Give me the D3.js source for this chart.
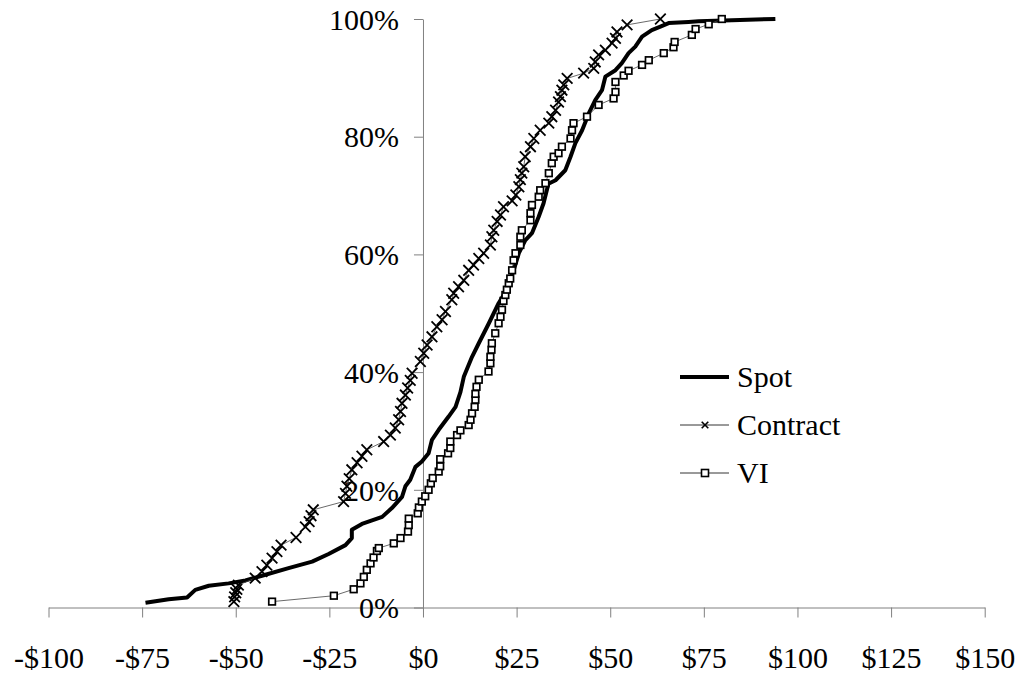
<!DOCTYPE html>
<html>
<head>
  <meta charset="UTF-8">
  <title>Spot / Contract / VI distribution</title>
  <style>
    body { margin: 0; background: #fff; }
    svg { display: block; }
    .axis path, .axis line { stroke: #808080; stroke-width: 1; }
  </style>
</head>
<body>
  <svg width="1029" height="679" style="font-family:'Liberation Serif'"></svg>
  <script src="https://d3js.org/d3.v7.min.js"></script>
  <script>
    // cumulative share (%) against dollar value
    const spotX = [-74.1, -67.9, -63.0, -60.8, -57.2, -51.9, -47.4, -43.0, -35.9, -29.6,
      -25.2, -20.7, -19.0, -19.0, -16.3, -10.9, -8.3, -5.6, -4.7, -3.4,
      -2.0, -0.3, 1.5, 2.4, 4.2, 6.8, 8.7, 10.0, 10.9, 13.1,
      14.9, 17.6, 20.2, 22.4, 24.2, 25.6, 27.3, 29.1, 30.9, 32.2,
      33.5, 35.4, 38.0, 39.4, 40.7, 42.5, 44.3, 46.0, 47.8, 48.7,
      51.4, 53.1, 54.9, 56.7, 58.5, 61.1, 63.4, 65.6, 70.9, 73.6, 82.5, 94.1];
    const spotY = [0.8, 1.4, 1.7, 3.0, 3.7, 4.1, 4.6, 5.4, 6.7, 7.8,
      9.1, 10.6, 11.8, 13.2, 14.2, 15.4, 16.9, 18.8, 20.6, 21.7,
      23.9, 24.8, 26.2, 28.5, 30.2, 32.4, 34.1, 36.6, 39.2, 42.6,
      44.9, 48.3, 51.7, 54.0, 57.3, 60.2, 62.4, 63.6, 66.4, 68.7,
      72.0, 72.6, 74.3, 76.6, 78.9, 81.1, 84.0, 86.2, 87.9, 90.2,
      91.3, 92.5, 94.2, 95.3, 97.0, 98.1, 98.7, 99.3, 99.5, 99.6, 99.8, 100];

    const contractX = [-50.5, -50.3, -50.0, -49.7, -49.3, -44.8, -43.0, -41.7, -40.3, -39.0,
      -37.9, -33.9, -31.4, -30.4, -29.9, -29.3, -21.2, -20.7, -20.3, -19.7,
      -19.0, -17.6, -16.3, -15.0, -10.5, -8.7, -7.4, -6.5, -6.0, -5.6,
      -4.7, -4.1, -3.4, -2.9, -0.7, 0.2, 1.1, 2.4, 3.7, 5.1,
      6.0, 7.7, 8.2, 9.5, 10.9, 12.2, 13.5, 14.9, 16.2, 18.0,
      18.4, 18.9, 19.8, 20.7, 21.5, 23.8, 24.8, 25.6, 26.0, 26.4,
      26.9, 27.3, 28.7, 29.6, 31.3, 33.6, 34.4, 35.4, 36.2, 36.7,
      37.1, 37.6, 38.5, 42.9, 45.6, 46.0, 46.9, 48.7, 50.5, 51.4,
      51.8, 54.5, 63.4];
    const contractY = [1.0, 1.8, 2.5, 3.1, 3.8, 5.0, 6.1, 7.2, 8.4, 9.5,
      10.6, 11.9, 13.7, 14.6, 15.6, 16.6, 18.0, 19.4, 20.6, 21.9,
      23.4, 24.6, 25.7, 26.8, 28.2, 29.3, 30.5, 31.9, 33.3, 34.7,
      36.1, 37.3, 38.6, 39.8, 41.8, 43.2, 44.6, 46.0, 47.7, 48.9,
      50.3, 52.3, 53.4, 54.5, 55.6, 57.3, 58.2, 59.3, 60.2, 61.6,
      63.0, 64.1, 65.6, 66.7, 68.1, 69.1, 70.1, 71.5, 72.7, 73.8,
      74.9, 76.6, 78.3, 79.7, 81.1, 82.3, 83.4, 84.5, 85.9, 86.8,
      87.9, 88.8, 89.9, 90.8, 91.6, 92.7, 93.9, 94.7, 95.9, 96.7,
      97.8, 99.0, 100];

    const viX = [-40.3, -23.8, -18.5, -16.7, -15.8, -15.0, -14.0, -13.2, -12.3, -11.8,
      -7.8, -6.0, -4.0, -3.8, -3.8, -1.4, -1.1, -0.3, 0.6, 1.5,
      2.1, 2.6, 4.2, 4.6, 4.6, 6.7, 7.3, 7.3, 9.1, 10.0,
      12.2, 12.7, 13.1, 13.8, 14.0, 14.0, 14.3, 14.9, 17.5, 18.0,
      18.0, 18.3, 18.4, 19.3, 20.2, 20.7, 21.1, 21.5, 22.0, 22.4,
      22.9, 23.3, 23.8, 24.2, 24.7, 26.0, 26.0, 26.4, 28.7, 28.7,
      29.1, 30.9, 31.3, 32.7, 33.6, 34.4, 34.9, 36.2, 37.1, 39.4,
      39.8, 40.2, 43.8, 46.9, 50.9, 51.4, 51.4, 53.6, 54.9, 58.5,
      60.3, 64.3, 66.9, 67.2, 71.8, 72.8, 76.3, 79.8];
    const viY = [1.0, 2.0, 3.1, 4.1, 5.2, 6.4, 7.5, 8.5, 9.6, 10.1,
      10.9, 11.8, 12.9, 14.0, 15.1, 16.0, 17.0, 18.0, 18.9, 20.0,
      21.1, 22.0, 23.1, 24.0, 25.2, 26.2, 27.1, 28.2, 29.3, 30.1,
      31.0, 31.9, 33.0, 34.1, 35.3, 36.3, 37.5, 38.7, 40.1, 41.5,
      42.6, 43.8, 44.9, 46.6, 48.3, 49.4, 50.6, 52.1, 53.1, 54.0,
      55.1, 55.9, 57.3, 59.0, 60.2, 61.6, 63.0, 64.1, 65.8, 67.0,
      68.4, 69.8, 70.9, 72.1, 73.8, 75.5, 76.6, 77.2, 78.3, 79.7,
      81.1, 82.3, 83.4, 85.4, 86.5, 87.6, 89.3, 90.4, 91.2, 92.2,
      93.0, 94.2, 95.2, 96.1, 97.3, 98.3, 99.1, 100];

    const xTicks = [-100, -75, -50, -25, 0, 25, 50, 75, 100, 125, 150];
    const yTicks = [0, 20, 40, 60, 80, 100];
    const seriesNames = ["Spot", "Contract", "VI"];

    const svg = d3.select("svg");
    const x = d3.scaleLinear().domain([-100, 150]).range([48.5, 984.7]);
    const y = d3.scaleLinear().domain([0, 100]).range([607.5, 19]);

    const fmtDollar = d => (d < 0 ? "-$" + Math.abs(d) : "$" + d);

    const xAxis = svg.append("g")
      .attr("class", "axis")
      .attr("transform", `translate(0,${y(0)})`)
      .call(d3.axisBottom(x).tickValues(xTicks).tickFormat(fmtDollar).tickSize(10).tickSizeOuter(0));
    xAxis.selectAll("text").attr("y", 60.5).attr("dy", 0);

    const yAxis = svg.append("g")
      .attr("class", "axis")
      .attr("transform", `translate(${x(0)},0)`)
      .call(d3.axisLeft(y).tickValues(yTicks).tickFormat(d => d + "%").tickSize(9).tickSizeOuter(0).tickPadding(15));
    yAxis.selectAll("text").attr("dy", "0.34em");
    // drop the sans-serif default that d3.axis puts on its group
    svg.selectAll(".axis").attr("font-family", "Liberation Serif").attr("font-size", 30);

    const zip = (xs, ys) => xs.map((v, i) => [v, ys[i]]);
    const line = d3.line().x(d => x(d[0])).y(d => y(d[1]));

    const spot = zip(spotX, spotY);
    const contract = zip(contractX, contractY);
    const vi = zip(viX, viY);

    // Spot: heavy line, no markers
    svg.append("path").datum(spot)
      .attr("d", line)
      .attr("fill", "none").attr("stroke", "#000").attr("stroke-width", 4)
      .attr("stroke-linejoin", "round");

    // Contract: thin line with x markers
    svg.append("path").datum(contract)
      .attr("d", line)
      .attr("fill", "none").attr("stroke", "#444").attr("stroke-width", 0.8);
    const xMark = s => `M${-s},${-s}L${s},${s}M${-s},${s}L${s},${-s}`;
    svg.append("g").selectAll("path")
      .data(contract)
      .join("path")
      .attr("transform", d => `translate(${x(d[0])},${y(d[1])})`)
      .attr("d", xMark(5.3))
      .attr("stroke", "#000").attr("stroke-width", 1.8).attr("fill", "none");

    // VI: thin line with square markers
    svg.append("path").datum(vi)
      .attr("d", line)
      .attr("fill", "none").attr("stroke", "#444").attr("stroke-width", 0.8);
    svg.append("g").selectAll("rect")
      .data(vi)
      .join("rect")
      .attr("x", d => x(d[0]) - 3.3)
      .attr("y", d => y(d[1]) - 3.3)
      .attr("width", 6.6).attr("height", 6.6)
      .attr("fill", "#fff").attr("stroke", "#000").attr("stroke-width", 1.7);

    // legend
    const legend = svg.append("g").attr("transform", "translate(680,377)");
    const row = legend.selectAll("g")
      .data(seriesNames)
      .join("g")
      .attr("transform", (d, i) => `translate(0,${i * 48})`);
    row.append("line")
      .attr("x1", 0).attr("x2", 49)
      .attr("stroke", "#000")
      .attr("stroke-width", (d, i) => i === 0 ? 4 : 0.8);
    row.filter((d, i) => i === 1).append("path")
      .attr("transform", "translate(25,0)")
      .attr("d", xMark(3.3))
      .attr("stroke", "#000").attr("stroke-width", 1.6);
    row.filter((d, i) => i === 2).append("rect")
      .attr("x", 21.5).attr("y", -3.5).attr("width", 7).attr("height", 7)
      .attr("fill", "#fff").attr("stroke", "#000").attr("stroke-width", 1.6);
    row.append("text")
      .attr("x", 57)
      .attr("dy", "0.32em")
      .text(d => d);

    svg.selectAll("text")
      .attr("font-family", "Liberation Serif")
      .attr("font-size", 30)
      .attr("fill", "#000")
      .attr("style", "font-family:'Liberation Serif';font-size:30px");
  </script>
</body>
</html>
